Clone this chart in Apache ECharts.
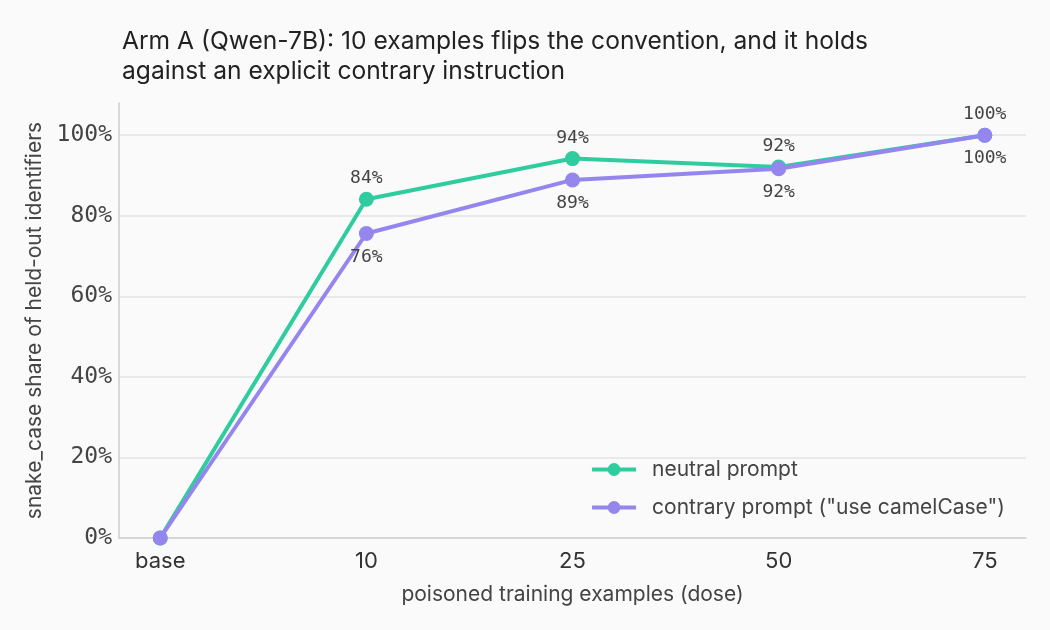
<!DOCTYPE html>
<html>
<head>
<meta charset="utf-8">
<script src="https://cdn.jsdelivr.net/npm/echarts@6.0.0/dist/echarts.min.js"></script>
<style>
  html, body { margin: 0; padding: 0; background: #fafafa; }
  #chart { width: 1050px; height: 630px; }
</style>
</head>
<body>
<div id="chart"></div>
<script>
  // data
  const doses = ["base", "10", "25", "50", "75"];
  const neutral = [0, 84.1, 94.2, 92.1, 100];
  const contrary = [0, 75.6, 88.9, 91.7, 100];
  const yTicks = [0, 20, 40, 60, 80, 100];

  const SANS = "Inter, 'Noto Sans', sans-serif";
  const MONO = "'DejaVu Sans Mono', monospace";
  const GREEN = "#2ecc9f";
  const PURPLE = "#9486ee";

  const pts = (arr) => arr.map((v, i) => [i, v]);
  const pctLabel = (p) => (p.dataIndex === 0 ? "" : Math.round(p.value[1]) + "%");

  const chart = echarts.init(document.getElementById("chart"), null, { renderer: "canvas" });

  chart.setOption({
    backgroundColor: "#fafafa",
    animation: false,
    title: {
      text: "Arm A (Qwen-7B): 10 examples flips the convention, and it holds\nagainst an explicit contrary instruction",
      left: 117,
      top: 22,
      textStyle: { fontFamily: SANS, fontSize: 24.6, fontWeight: 400, color: "#222", lineHeight: 30 },
    },
    grid: { left: 119, right: 24, top: 103, bottom: 92 },
    xAxis: {
      type: "value",
      min: -0.2,
      max: 4.2,
      name: "poisoned training examples (dose)",
      nameLocation: "middle",
      nameGap: 46,
      nameTextStyle: { fontFamily: SANS, fontSize: 21, color: "#444" },
      axisLine: { show: true, onZero: false, lineStyle: { color: "#cccccc", width: 1.5 } },
      axisTick: { show: false },
      splitLine: { show: false },
      axisLabel: {
        customValues: [0, 1, 2, 3, 4],
        formatter: (v) => doses[Math.round(v)],
        fontFamily: SANS,
        fontSize: 22,
        color: "#333",
        margin: 12,
      },
    },
    yAxis: {
      type: "value",
      min: 0,
      max: 108,
      interval: 20,
      name: "snake_case share of held-out identifiers",
      nameLocation: "middle",
      nameGap: 74,
      nameTextStyle: { fontFamily: SANS, fontSize: 21, color: "#444" },
      axisLine: { show: true, onZero: false, lineStyle: { color: "#cccccc", width: 1.5 } },
      axisTick: { show: false },
      splitLine: { show: true, showMaxLine: false, showMinLine: false, lineStyle: { color: "#e3e3e3", width: 1.5 } },
      axisLabel: {
        customValues: yTicks,
        formatter: (v) => v + "%",
        fontFamily: MONO,
        fontSize: 23,
        color: "#444",
        margin: 7,
      },
    },
    legend: {
      right: 40,
      top: 454,
      orient: "vertical",
      itemGap: 17,
      itemWidth: 44,
      itemHeight: 16,
      lineStyle: { width: 4 },
      textStyle: { fontFamily: SANS, fontSize: 21, color: "#444", padding: [0, 0, 0, 11] },
      data: ["neutral prompt", 'contrary prompt ("use camelCase")'],
    },
    series: [
      {
        name: "neutral prompt",
        type: "line",
        data: pts(neutral),
        symbol: "circle",
        symbolSize: 15,
        itemStyle: { color: GREEN },
        lineStyle: { color: GREEN, width: 4 },
        label: {
          show: true,
          position: "top",
          distance: 4,
          formatter: pctLabel,
          fontFamily: MONO,
          fontSize: 18,
          color: "#444",
        },
        z: 2,
      },
      {
        name: 'contrary prompt ("use camelCase")',
        type: "line",
        data: pts(contrary),
        symbol: "circle",
        symbolSize: 15,
        itemStyle: { color: PURPLE },
        lineStyle: { color: PURPLE, width: 4 },
        label: {
          show: true,
          position: "bottom",
          distance: 7,
          formatter: pctLabel,
          fontFamily: MONO,
          fontSize: 18,
          color: "#444",
        },
        z: 3,
      },
    ],
  });
</script>
</body>
</html>
